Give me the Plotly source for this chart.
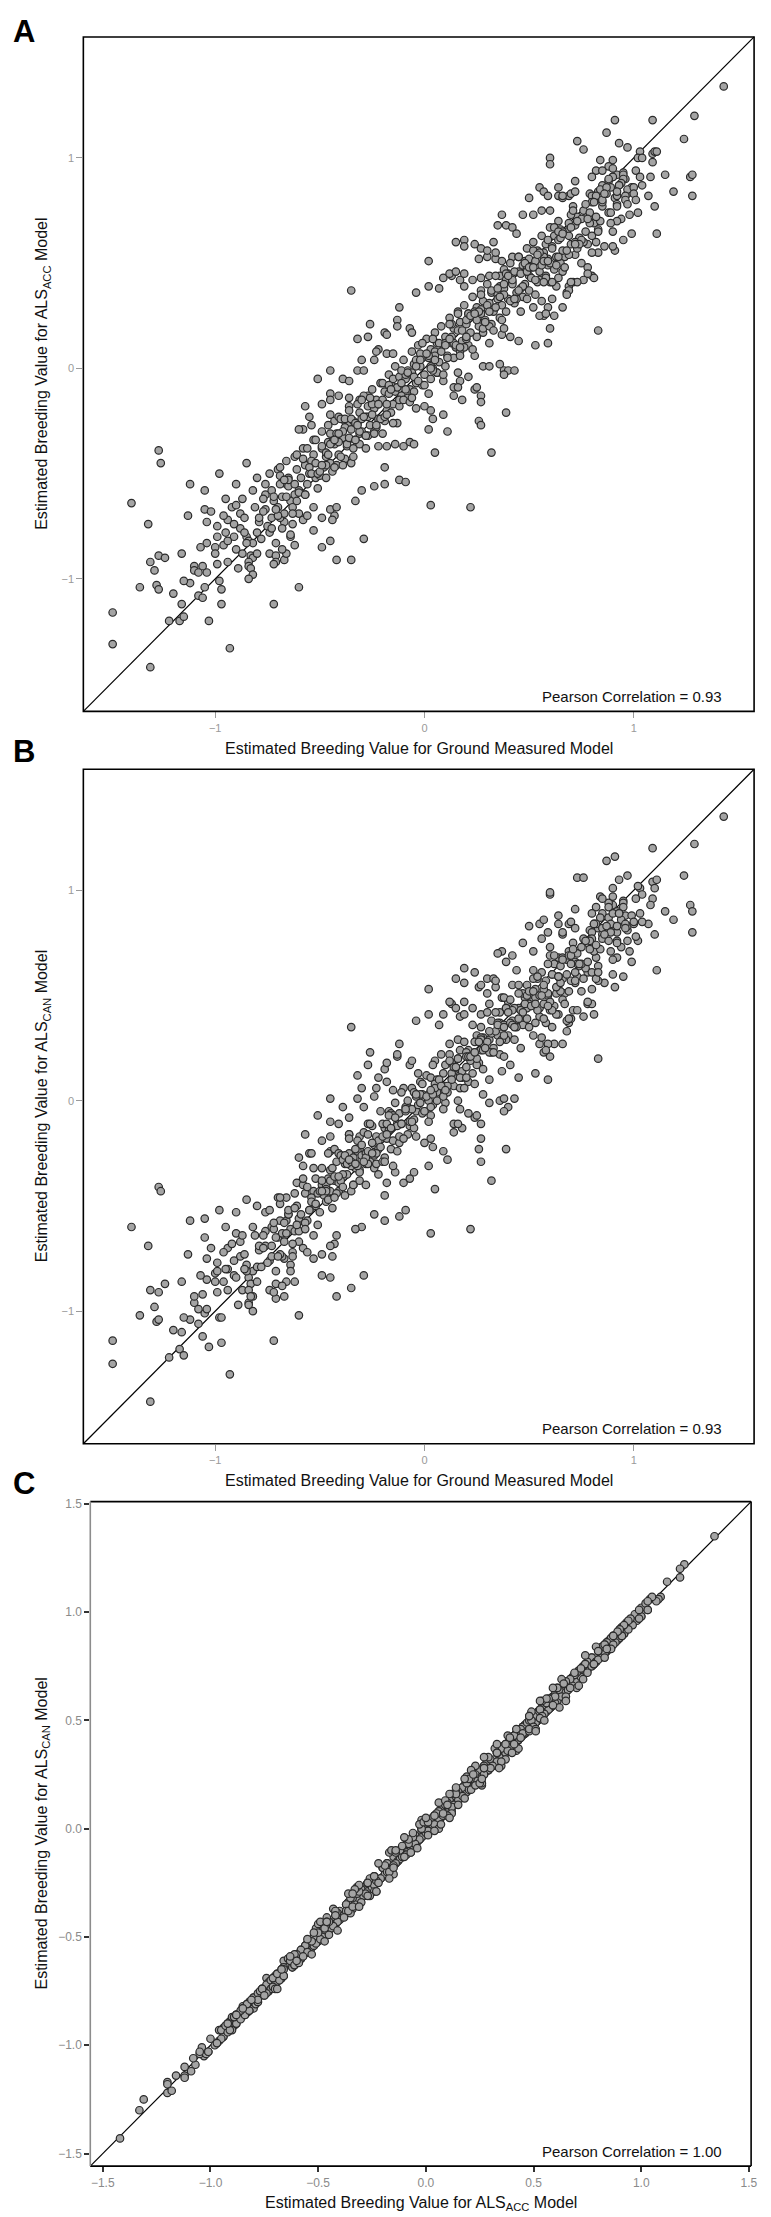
import plotly.graph_objects as go

# Estimated breeding values.
# Panel A: ground vs ALS_ACC, panel B: ground vs ALS_CAN, panel C: ALS_ACC vs ALS_CAN

# lower-left tail
TAIL_GROUND = [
    -1.49, -1.49, -1.31, -0.93, -0.72, -0.60, -0.42, -0.35, -0.29, -1.03,
    -1.22, -1.17, -1.15, -1.16, -1.20, -1.36, -1.28, -1.27, -1.29, -1.31,
    -1.27, -1.24, -1.32, -1.13, -1.16, -1.10, -1.10, -1.12, -1.08, -1.06,
    -1.05, -1.04, -1.06, -0.98, -0.97, -0.97, -0.99, -1.04, -1.00, -0.99,
    -1.04, -1.05, -1.02, -0.94, -0.91, -0.88, -0.96, -0.94, -0.92, -0.90,
    -0.85, -0.84, -0.82, -0.87, -0.83, -0.82, -0.80, -0.84, -0.84, -0.83,
    -0.82, -0.84, -0.74, -0.71, -0.71, -0.72, -0.67, -0.66, -0.68, -0.71,
    -0.62, -0.64, -0.64, -0.74, -0.75, -0.79, -0.67, -0.68, -0.63, -0.49,
    -0.45, -0.53, -0.49, -0.43, -0.44, -0.53, -0.45, -0.42, -0.76, -0.73,
    -0.69, -0.60, -0.58, -0.56, 0.03, 0.22, -1.40, -1.27, -1.26, -0.98,
    -0.90, -0.85, -0.80, -0.76, -0.70, -0.66, -0.62, -1.05, -1.12, -0.95,
]
TAIL_ACC = [
    -1.16, -1.31, -1.42, -1.33, -1.12, -1.04, -0.91, -0.91, -0.81, -1.20,
    -1.20, -1.20, -1.18, -1.12, -1.07, -1.04, -1.03, -1.05, -0.96, -0.92,
    -0.89, -0.90, -0.74, -0.70, -0.88, -0.94, -0.96, -1.02, -1.08, -1.09,
    -1.04, -0.97, -0.94, -1.01, -1.05, -1.12, -0.93, -0.83, -0.85, -0.80,
    -0.73, -0.67, -0.68, -0.72, -0.80, -0.76, -0.84, -0.82, -0.66, -0.65,
    -0.80, -0.82, -0.83, -0.88, -0.89, -0.90, -0.88, -0.92, -0.94, -0.95,
    -0.98, -1.00, -0.88, -0.89, -0.92, -0.93, -0.91, -0.88, -0.86, -0.83,
    -0.84, -0.80, -0.79, -0.78, -0.75, -0.73, -0.73, -0.76, -0.74, -0.85,
    -0.82, -0.77, -0.71, -0.70, -0.72, -0.66, -0.67, -0.66, -0.67, -0.71,
    -0.71, -0.69, -0.72, -0.70, -0.65, -0.66, -0.64, -0.39, -0.45, -0.50,
    -0.55, -0.45, -0.52, -0.60, -0.48, -0.55, -0.42, -0.58, -0.55, -0.62,
]
TAIL_CAN = [
    -1.14, -1.25, -1.43, -1.30, -1.14, -1.02, -0.93, -0.89, -0.83, -1.17,
    -1.22, -1.18, -1.21, -1.10, -1.09, -1.02, -1.05, -1.04, -0.98, -0.90,
    -0.91, -0.87, -0.69, -0.73, -0.86, -0.96, -0.93, -1.04, -1.06, -1.12,
    -1.01, -0.99, -0.92, -1.03, -1.03, -1.15, -0.91, -0.85, -0.82, -0.81,
    -0.75, -0.65, -0.70, -0.70, -0.83, -0.74, -0.86, -0.80, -0.68, -0.63,
    -0.78, -0.84, -0.81, -0.90, -0.87, -0.93, -0.86, -0.90, -0.96, -0.93,
    -1.00, -0.97, -0.90, -0.87, -0.94, -0.91, -0.93, -0.86, -0.88, -0.81,
    -0.86, -0.78, -0.81, -0.76, -0.77, -0.71, -0.75, -0.74, -0.72, -0.83,
    -0.84, -0.75, -0.73, -0.68, -0.74, -0.64, -0.69, -0.64, -0.69, -0.69,
    -0.73, -0.67, -0.70, -0.72, -0.63, -0.61, -0.60, -0.41, -0.43, -0.52,
    -0.53, -0.47, -0.50, -0.62, -0.46, -0.57, -0.44, -0.56, -0.57, -0.60,
]

# middle of the cloud, edges and strays
MID_GROUND = [
    0.02, -0.35, -0.04, -0.12, -0.26, -0.32, -0.27, -0.13, -0.13, -0.19,
    -0.18, -0.22, -0.23, -0.18, -0.15, -0.30, -0.24, -0.45, -0.51, -0.39,
    -0.36, -0.32, -0.29, -0.57, -0.55, -0.54, -0.58, -0.60, -0.49, -0.45,
    -0.45, -0.41, -0.36, -0.36, -0.31, -0.27, -0.45, -0.43, -0.41, -0.38,
    -0.36, -0.31, -0.28, -0.24, -0.22, -0.18, -0.14, -0.10, -0.07, -0.05,
    -0.19, -0.12, -0.09, -0.19, -0.24, -0.30, -0.33, 0.05, 0.11, 0.02,
    0.04, 0.09, 0.03, 0.00, 0.18, 0.14, 0.27, 0.27, 0.24, 0.39,
    0.26, 0.27, 0.32, 0.21, 0.17, 0.14, 0.36, 0.38, 0.40, 0.43,
    0.28, 0.31, 0.53, 0.59, 0.60, 0.57, 0.52, 0.45, 0.41, 0.37,
    0.75, 0.78, 0.80, 0.69, 0.68, 0.71, 0.66, 0.62, 0.59, 0.26,
    0.30, 0.34, 0.37, 0.42, 0.48, 0.53, 0.59, 0.64, 0.67, 0.72,
    0.09, 0.13, 0.17, 0.19, 0.23, 0.27, 0.31, 0.36, 0.40, 0.45,
    0.50, 0.55, 0.60,
]
MID_ACC = [
    0.51, 0.37, 0.36, 0.29, 0.21, 0.14, 0.15, 0.23, 0.20, 0.17,
    0.16, 0.09, 0.08, 0.07, 0.07, 0.04, 0.04, -0.01, -0.05, -0.05,
    -0.06, -0.01, -0.01, -0.18, -0.23, -0.27, -0.29, -0.29, -0.17, -0.12,
    -0.15, -0.13, -0.14, -0.18, -0.15, -0.13, -0.22, -0.25, -0.23, -0.25,
    -0.27, -0.31, -0.32, -0.30, -0.37, -0.37, -0.36, -0.37, -0.35, -0.36,
    -0.47, -0.53, -0.54, -0.55, -0.56, -0.58, -0.63, -0.40, -0.30, -0.29,
    -0.24, -0.22, -0.20, -0.18, -0.15, -0.13, -0.13, -0.16, -0.10, -0.21,
    -0.25, -0.27, -0.40, -0.04, -0.06, -0.09, 0.02, -0.01, -0.01, -0.01,
    0.01, 0.01, 0.11, 0.12, 0.19, 0.25, 0.29, 0.13, 0.15, 0.16,
    0.50, 0.48, 0.44, 0.39, 0.36, 0.41, 0.29, 0.25, 0.29, 0.52,
    0.53, 0.52, 0.51, 0.53, 0.51, 0.51, 0.52, 0.51, 0.53, 0.54,
    0.43, 0.44, 0.42, 0.39, 0.42, 0.43, 0.44, 0.44, 0.45, 0.46,
    0.44, 0.42, 0.41,
]
MID_CAN = [
    0.53, 0.35, 0.38, 0.27, 0.23, 0.12, 0.17, 0.21, 0.22, 0.15,
    0.18, 0.11, 0.06, 0.09, 0.05, 0.06, 0.02, 0.01, -0.07, -0.03,
    -0.08, 0.01, -0.03, -0.16, -0.25, -0.25, -0.31, -0.27, -0.19, -0.10,
    -0.17, -0.11, -0.16, -0.16, -0.17, -0.11, -0.24, -0.23, -0.25, -0.27,
    -0.25, -0.33, -0.30, -0.32, -0.35, -0.39, -0.34, -0.39, -0.37, -0.34,
    -0.45, -0.55, -0.52, -0.57, -0.54, -0.60, -0.61, -0.42, -0.28, -0.31,
    -0.22, -0.24, -0.18, -0.20, -0.13, -0.15, -0.11, -0.18, -0.08, -0.23,
    -0.23, -0.29, -0.38, -0.06, -0.04, -0.11, 0.00, 0.01, -0.03, 0.01,
    0.03, -0.01, 0.13, 0.10, 0.21, 0.23, 0.31, 0.11, 0.17, 0.14,
    0.52, 0.46, 0.46, 0.37, 0.38, 0.43, 0.27, 0.27, 0.27, 0.54,
    0.51, 0.54, 0.49, 0.55, 0.49, 0.53, 0.50, 0.53, 0.51, 0.56,
    0.41, 0.46, 0.40, 0.41, 0.44, 0.41, 0.46, 0.42, 0.47, 0.44,
    0.46, 0.40, 0.43,
]

# upper-right part of the cloud
UPPER_GROUND = [
    1.10, 1.11, 0.99, 0.95, 1.02, 0.98, 0.94, 0.92, 0.90, 0.91,
    0.90, 0.86, 0.83, 0.82, 0.80, 0.78, 0.81, 0.78, 0.76, 0.73,
    0.70, 0.69, 0.68, 0.83, 0.55, 0.58, 0.61, 0.56, 0.66, 0.64,
    0.63, 0.15, 0.19, 0.19, 0.02, 0.07, 0.12, 0.15, 0.19, -0.07,
    -0.06, 0.24, 0.27, 0.30, 0.33, 0.34, 0.37, 0.35, 0.39, 0.42,
    0.44, 0.47, 0.52, 0.56, 0.60, 0.64, 0.66, 0.69, 0.79, 0.81,
    0.83, 0.85, 0.88, 0.90, 0.92, 0.95, 0.96, 0.99, 0.97, 0.91,
    0.92, 0.78, 0.82, 0.85, 0.25, 0.16, 0.38,
    1.43, 1.29, 1.24, 1.09, 0.91, 0.87, 0.73, 0.76, 0.60, 0.60,
    0.93, 0.97, 1.03, 1.02, 1.04, 1.09, 1.10, 1.11, 1.09, 1.01,
    1.03, 1.08, 1.15, 1.27, 1.28, 1.19, 1.28, 1.07, 0.84, 0.90,
    0.88, 0.90, 0.82, 0.85, 0.80, 0.90, 0.88, 0.95, 0.95, 0.94,
    0.93, 0.97, 1.00, 0.72, 0.84, 0.89, 0.64, 0.55, 0.57, 0.59,
    0.50, 0.66, 0.70, 0.72, 0.80, 0.82, 0.92, 0.96,
]
UPPER_ACC = [
    0.77, 0.64, 0.64, 0.61, 0.74, 0.73, 0.71, 0.70, 0.65, 0.56,
    0.58, 0.58, 0.55, 0.60, 0.55, 0.59, 0.43, 0.45, 0.42, 0.41,
    0.41, 0.37, 0.35, 0.18, 0.25, 0.26, 0.33, 0.32, 0.46, 0.43,
    0.39, 0.60, 0.61, 0.58, 0.39, 0.38, 0.45, 0.46, 0.45, 0.19,
    0.17, 0.59, 0.57, 0.56, 0.60, 0.55, 0.73, 0.68, 0.68, 0.67,
    0.64, 0.73, 0.73, 0.75, 0.75, 0.82, 0.81, 0.82, 0.83, 0.82,
    0.84, 0.87, 0.89, 0.91, 0.92, 0.93, 0.90, 0.86, 0.83, 0.81,
    0.78, 0.73, 0.70, 0.77, -0.09, -0.09, -0.03,
    1.34, 1.20, 1.09, 1.18, 1.18, 1.12, 1.08, 1.04, 1.00, 0.97,
    1.07, 1.05, 1.03, 1.00, 1.00, 1.02, 1.03, 1.03, 0.98, 0.94,
    0.91, 0.91, 0.92, 0.91, 0.92, 0.84, 0.82, 0.82, 0.99, 0.99,
    0.96, 0.95, 0.94, 0.94, 0.91, 0.91, 0.90, 0.92, 0.90, 0.88,
    0.87, 0.85, 0.86, 0.89, 0.85, 0.86, 0.86, 0.86, 0.84, 0.82,
    0.81, 0.82, 0.83, 0.84, 0.82, 0.82, 0.82, 0.82,
]
UPPER_CAN = [
    0.79, 0.62, 0.66, 0.59, 0.76, 0.71, 0.73, 0.68, 0.67, 0.54,
    0.60, 0.56, 0.57, 0.58, 0.53, 0.61, 0.41, 0.47, 0.40, 0.43,
    0.39, 0.39, 0.33, 0.20, 0.27, 0.24, 0.35, 0.30, 0.48, 0.41,
    0.41, 0.58, 0.63, 0.56, 0.41, 0.36, 0.47, 0.44, 0.47, 0.17,
    0.19, 0.61, 0.55, 0.58, 0.58, 0.57, 0.71, 0.70, 0.66, 0.69,
    0.62, 0.75, 0.71, 0.77, 0.73, 0.84, 0.79, 0.84, 0.81, 0.84,
    0.82, 0.89, 0.87, 0.93, 0.90, 0.95, 0.88, 0.88, 0.81, 0.83,
    0.76, 0.75, 0.68, 0.79, -0.07, -0.11, -0.05,
    1.35, 1.22, 1.07, 1.20, 1.16, 1.14, 1.06, 1.06, 0.98, 0.99,
    1.05, 1.07, 1.01, 1.02, 0.98, 1.04, 1.01, 1.05, 0.96, 0.96,
    0.89, 0.93, 0.90, 0.93, 0.90, 0.86, 0.80, 0.84, 0.97, 1.01,
    0.94, 0.97, 0.92, 0.96, 0.89, 0.89, 0.92, 0.94, 0.92, 0.86,
    0.89, 0.83, 0.84, 0.91, 0.87, 0.84, 0.88, 0.84, 0.86, 0.80,
    0.83, 0.80, 0.85, 0.82, 0.80, 0.84, 0.80, 0.84,
]

# dense core along the diagonal
CORE_GROUND = [
    -0.95, -0.94, -0.96, -0.90, -0.91, -0.89, -0.88, -0.86, -0.85, -0.87,
    -0.86, -0.81, -0.80, -0.82, -0.79, -0.77, -0.78, -0.76, -0.77, -0.73,
    -0.72, -0.74, -0.73, -0.69, -0.70, -0.68, -0.69, -0.67, -0.65, -0.64,
    -0.66, -0.65, -0.63, -0.61, -0.60, -0.62, -0.61, -0.59, -0.57, -0.56,
    -0.58, -0.57, -0.55, -0.53, -0.52, -0.54, -0.53, -0.51, -0.49, -0.48,
    -0.50, -0.49, -0.47, -0.46, -0.45, -0.47, -0.46, -0.44, -0.45, -0.42,
    -0.41, -0.43, -0.42, -0.40, -0.38, -0.37, -0.39, -0.38, -0.36, -0.39,
    -0.34, -0.33, -0.35, -0.34, -0.32, -0.35, -0.31, -0.30, -0.32, -0.31,
    -0.29, -0.30, -0.27, -0.26, -0.28, -0.27, -0.25, -0.28, -0.23, -0.22,
    -0.24, -0.23, -0.21, -0.22, -0.19, -0.18, -0.20, -0.19, -0.17, -0.20,
    -0.16, -0.15, -0.17, -0.16, -0.14, -0.15, -0.12, -0.11, -0.13, -0.12,
    -0.10, -0.13, -0.08, -0.07, -0.09, -0.08, -0.06, -0.09, -0.05, -0.04,
    -0.06, -0.05, -0.03, -0.04, -0.01, 0.00, -0.02, -0.01, 0.01, -0.02,
    0.03, 0.04, 0.02, 0.03, 0.05, 0.02, 0.06, 0.07, 0.05, 0.06,
    0.08, 0.05, 0.10, 0.11, 0.09, 0.10, 0.12, 0.09, 0.14, 0.15,
    0.13, 0.14, 0.16, 0.13, 0.17, 0.18, 0.16, 0.17, 0.19, 0.16,
    0.21, 0.22, 0.20, 0.21, 0.23, 0.20, 0.25, 0.26, 0.24, 0.25,
    0.27, 0.24, 0.28, 0.29, 0.27, 0.28, 0.30, 0.27, 0.32, 0.33,
    0.31, 0.32, 0.34, 0.31, 0.36, 0.37, 0.35, 0.36, 0.38, 0.35,
    0.39, 0.40, 0.38, 0.39, 0.41, 0.38, 0.43, 0.44, 0.42, 0.43,
    0.45, 0.42, 0.47, 0.48, 0.46, 0.47, 0.49, 0.46, 0.50, 0.51,
    0.49, 0.50, 0.52, 0.49, 0.54, 0.55, 0.53, 0.54, 0.56, 0.53,
    0.58, 0.59, 0.57, 0.58, 0.60, 0.57, 0.62, 0.63, 0.61, 0.62,
    0.64, 0.61, 0.65, 0.66, 0.64, 0.65, 0.69, 0.70, 0.68, 0.69,
    0.71, 0.73, 0.74, 0.72, 0.73, 0.76, 0.77, 0.75, 0.76, 0.80,
    0.81, 0.79, 0.80, 0.84, 0.85, 0.83, 0.88, 0.87, 0.89, 0.92,
    0.93, 0.96, 0.97, 1.00, 1.01, 1.04, -1.00, -0.99, -1.08, -1.07,
    -1.15,
]
CORE_ACC = [
    -0.78, -0.92, -0.70, -0.86, -0.74, -0.95, -0.69, -0.71, -0.83, -0.62,
    -0.78, -0.66, -0.78, -0.58, -0.71, -0.62, -0.81, -0.55, -0.68, -0.58,
    -0.63, -0.50, -0.76, -0.55, -0.66, -0.61, -0.47, -0.69, -0.52, -0.63,
    -0.44, -0.56, -0.66, -0.48, -0.58, -0.60, -0.41, -0.52, -0.46, -0.55,
    -0.38, -0.60, -0.50, -0.41, -0.52, -0.44, -0.34, -0.57, -0.38, -0.47,
    -0.51, -0.30, -0.42, -0.35, -0.45, -0.40, -0.27, -0.49, -0.31, -0.31,
    -0.41, -0.36, -0.46, -0.24, -0.28, -0.37, -0.33, -0.43, -0.20, -0.30,
    -0.25, -0.34, -0.29, -0.38, -0.17, -0.45, -0.21, -0.30, -0.26, -0.36,
    -0.13, -0.24, -0.18, -0.27, -0.23, -0.32, -0.10, -0.38, -0.15, -0.24,
    -0.19, -0.28, -0.07, -0.17, -0.11, -0.20, -0.15, -0.25, -0.03, -0.31,
    -0.08, -0.17, -0.12, -0.21, 0.01, -0.05, -0.04, -0.13, -0.09, -0.18,
    0.04, -0.26, -0.01, -0.10, -0.05, -0.14, 0.08, -0.03, 0.02, -0.07,
    -0.02, -0.11, 0.11, -0.19, 0.05, -0.03, 0.01, -0.08, 0.14, 0.07,
    0.09, 0.00, 0.05, -0.05, 0.17, -0.12, 0.12, 0.03, 0.08, -0.02,
    0.20, 0.06, 0.15, 0.06, 0.11, 0.01, 0.24, -0.06, 0.19, 0.10,
    0.15, 0.05, 0.27, 0.12, 0.22, 0.13, 0.18, 0.08, 0.30, -0.02,
    0.26, 0.17, 0.21, 0.11, 0.34, 0.23, 0.29, 0.20, 0.25, 0.15,
    0.37, 0.06, 0.32, 0.23, 0.28, 0.17, 0.40, 0.26, 0.36, 0.27,
    0.31, 0.21, 0.44, 0.12, 0.39, 0.30, 0.35, 0.24, 0.47, 0.33,
    0.42, 0.33, 0.38, 0.27, 0.50, 0.19, 0.46, 0.36, 0.41, 0.31,
    0.53, 0.40, 0.49, 0.40, 0.45, 0.34, 0.57, 0.27, 0.52, 0.43,
    0.48, 0.37, 0.60, 0.46, 0.56, 0.46, 0.51, 0.41, 0.63, 0.35,
    0.59, 0.49, 0.55, 0.44, 0.67, 0.53, 0.63, 0.53, 0.58, 0.47,
    0.70, 0.41, 0.66, 0.56, 0.61, 0.50, 0.69, 0.59, 0.65, 0.54,
    0.77, 0.72, 0.62, 0.68, 0.57, 0.75, 0.65, 0.71, 0.60, 0.79,
    0.69, 0.74, 0.63, 0.70, 0.79, 0.66, 0.74, 0.83, 0.69, 0.77,
    0.87, 0.80, 0.78, 0.83, 0.80, 0.87, -0.88, -0.75, -0.97, -0.85,
    -1.01,
]
CORE_CAN = [
    -0.80, -0.90, -0.72, -0.84, -0.76, -0.97, -0.67, -0.73, -0.81, -0.64,
    -0.80, -0.64, -0.79, -0.60, -0.69, -0.64, -0.79, -0.53, -0.70, -0.60,
    -0.61, -0.52, -0.74, -0.57, -0.65, -0.63, -0.49, -0.67, -0.54, -0.61,
    -0.46, -0.54, -0.68, -0.50, -0.56, -0.62, -0.39, -0.54, -0.44, -0.57,
    -0.40, -0.58, -0.52, -0.43, -0.50, -0.46, -0.32, -0.59, -0.40, -0.45,
    -0.53, -0.32, -0.40, -0.37, -0.43, -0.42, -0.25, -0.51, -0.33, -0.29,
    -0.43, -0.38, -0.44, -0.26, -0.30, -0.35, -0.35, -0.45, -0.18, -0.28,
    -0.27, -0.32, -0.31, -0.40, -0.19, -0.43, -0.23, -0.28, -0.24, -0.38,
    -0.15, -0.26, -0.16, -0.29, -0.25, -0.30, -0.12, -0.40, -0.17, -0.22,
    -0.21, -0.30, -0.05, -0.19, -0.13, -0.18, -0.17, -0.27, -0.05, -0.29,
    -0.06, -0.19, -0.14, -0.23, -0.01, -0.07, -0.06, -0.11, -0.11, -0.20,
    0.06, -0.24, -0.03, -0.12, -0.03, -0.16, 0.06, -0.05, 0.04, -0.05,
    -0.04, -0.13, 0.13, -0.17, 0.03, -0.05, 0.03, -0.06, 0.12, 0.09,
    0.11, -0.02, 0.03, -0.07, 0.19, -0.10, 0.10, 0.05, 0.06, 0.00,
    0.22, 0.08, 0.17, 0.04, 0.13, -0.01, 0.22, -0.04, 0.17, 0.12,
    0.13, 0.07, 0.29, 0.10, 0.24, 0.11, 0.20, 0.06, 0.28, 0.00,
    0.24, 0.19, 0.23, 0.09, 0.36, 0.21, 0.31, 0.18, 0.23, 0.17,
    0.35, 0.08, 0.30, 0.25, 0.30, 0.15, 0.42, 0.24, 0.38, 0.25,
    0.29, 0.23, 0.42, 0.10, 0.37, 0.32, 0.37, 0.22, 0.49, 0.31,
    0.44, 0.31, 0.36, 0.29, 0.48, 0.21, 0.44, 0.38, 0.43, 0.29,
    0.55, 0.38, 0.51, 0.38, 0.43, 0.36, 0.55, 0.25, 0.50, 0.45,
    0.50, 0.35, 0.62, 0.44, 0.58, 0.44, 0.49, 0.43, 0.61, 0.37,
    0.57, 0.51, 0.53, 0.46, 0.69, 0.55, 0.65, 0.51, 0.60, 0.45,
    0.68, 0.43, 0.64, 0.58, 0.59, 0.52, 0.71, 0.57, 0.67, 0.52,
    0.75, 0.70, 0.64, 0.66, 0.59, 0.77, 0.63, 0.73, 0.58, 0.77,
    0.71, 0.76, 0.61, 0.72, 0.77, 0.64, 0.76, 0.81, 0.71, 0.75,
    0.89, 0.82, 0.76, 0.85, 0.78, 0.85, -0.86, -0.77, -0.99, -0.83,
    -1.03,
]

# thickest part of the band
DENSE_GROUND = [
    -0.72, -0.70, -0.69, -0.66, -0.65, -0.63, -0.62, -0.60, -0.58, -0.57,
    -0.55, -0.54, -0.52, -0.51, -0.49, -0.47, -0.46, -0.44, -0.43, -0.41,
    -0.40, -0.38, -0.37, -0.35, -0.34, -0.33, -0.31, -0.30, -0.28, -0.27,
    -0.25, -0.24, -0.22, -0.21, -0.20, -0.18, -0.17, -0.15, -0.14, -0.12,
    -0.11, -0.10, -0.08, -0.07, -0.05, -0.04, -0.03, -0.01, 0.00, 0.02,
    0.03, 0.04, 0.06, 0.07, 0.09, 0.10, 0.11, 0.13, 0.14, 0.16,
    0.17, 0.18, 0.20, 0.21, 0.23, 0.24, 0.25, 0.27, 0.28, 0.30,
    0.31, 0.32, 0.34, 0.35, 0.37, 0.38, 0.39, 0.41, 0.42, 0.44,
    0.45, 0.46, 0.48, 0.49, 0.51, 0.52, 0.53, 0.55, 0.56, 0.58,
    0.59, 0.60, 0.62, 0.63, 0.65, 0.66, 0.67, 0.69, 0.70, 0.72,
    0.73, 0.75, 0.77, 0.79, 0.81, 0.83, 0.85, 0.87, 0.89, 0.92,
    -0.71, -0.67, -0.61, -0.56, -0.50, -0.45, -0.39, -0.32, -0.26, -0.19,
    -0.13, -0.06, 0.01, 0.05, 0.12, 0.19, 0.26, 0.33, 0.40, 0.47,
    0.54, 0.57, 0.61, 0.64, 0.68, 0.71, 0.74, 0.78, 0.82, 0.86,
    -0.52, -0.47, -0.43, -0.36, -0.29, -0.23, -0.16, -0.09, -0.02, 0.04,
    0.08, 0.15, 0.22, 0.29, 0.36, 0.43, 0.50, 0.57, 0.64, 0.70,
    -0.49, -0.41, -0.33, -0.25, -0.18, -0.11, -0.04, 0.03, 0.10, 0.17,
    0.24, 0.31, 0.38, 0.45, 0.52, 0.59, 0.66, 0.72, 0.12, 0.20,
]
DENSE_ACC = [
    -0.61, -0.70, -0.51, -0.61, -0.53, -0.69, -0.55, -0.59, -0.43, -0.60,
    -0.47, -0.50, -0.34, -0.50, -0.37, -0.52, -0.41, -0.35, -0.47, -0.35,
    -0.42, -0.24, -0.36, -0.24, -0.42, -0.26, -0.30, -0.15, -0.32, -0.23,
    -0.17, -0.31, -0.17, -0.24, -0.07, -0.17, -0.08, -0.26, -0.11, -0.15,
    -0.01, -0.15, -0.02, -0.16, -0.04, 0.04, -0.06, 0.12, -0.08, 0.06,
    0.01, 0.14, -0.02, 0.12, -0.03, 0.12, 0.05, 0.21, 0.12, 0.26,
    0.06, 0.18, 0.14, 0.26, 0.09, 0.27, 0.23, 0.35, 0.19, 0.30,
    0.20, 0.37, 0.29, 0.38, 0.23, 0.35, 0.45, 0.32, 0.42, 0.33,
    0.53, 0.38, 0.50, 0.33, 0.48, 0.56, 0.42, 0.55, 0.49, 0.43,
    0.61, 0.50, 0.67, 0.49, 0.62, 0.65, 0.48, 0.63, 0.73, 0.60,
    0.70, 0.61, 0.78, 0.69, 0.79, 0.65, 0.80, 0.86, 0.74, 0.84,
    -0.67, -0.53, -0.63, -0.38, -0.49, -0.36, -0.46, -0.27, -0.14, -0.23,
    -0.09, -0.14, 0.07, 0.04, 0.21, 0.10, 0.27, 0.18, 0.44, 0.39,
    0.54, 0.41, 0.57, 0.65, 0.56, 0.75, 0.59, 0.71, 0.72, 0.83,
    -0.45, -0.46, -0.34, -0.33, -0.23, -0.27, -0.10, -0.10, 0.04, -0.01,
    0.08, 0.11, 0.25, 0.22, 0.34, 0.33, 0.48, 0.51, 0.53, 0.67,
    -0.46, -0.31, -0.34, -0.22, -0.22, -0.07, 0.01, 0.00, 0.11, 0.10,
    0.26, 0.27, 0.40, 0.37, 0.48, 0.51, 0.64, 0.59, 0.14, 0.15,
]
DENSE_CAN = [
    -0.58, -0.74, -0.46, -0.63, -0.52, -0.74, -0.51, -0.62, -0.37, -0.61,
    -0.52, -0.48, -0.37, -0.44, -0.38, -0.48, -0.47, -0.32, -0.46, -0.39,
    -0.38, -0.26, -0.30, -0.29, -0.40, -0.23, -0.34, -0.21, -0.27, -0.24,
    -0.20, -0.26, -0.23, -0.22, -0.11, -0.11, -0.07, -0.31, -0.08, -0.17,
    0.04, -0.18, 0.00, -0.10, -0.09, 0.02, -0.02, 0.08, -0.05, 0.00,
    -0.03, 0.17, 0.04, 0.10, 0.02, 0.07, 0.07, 0.18, 0.16, 0.20,
    0.12, 0.14, 0.16, 0.21, 0.13, 0.28, 0.20, 0.29, 0.24, 0.28,
    0.23, 0.32, 0.33, 0.36, 0.29, 0.31, 0.44, 0.37, 0.36, 0.35,
    0.51, 0.43, 0.46, 0.39, 0.45, 0.58, 0.46, 0.50, 0.50, 0.37,
    0.65, 0.47, 0.69, 0.54, 0.56, 0.68, 0.46, 0.69, 0.69, 0.61,
    0.65, 0.65, 0.76, 0.72, 0.84, 0.61, 0.82, 0.83, 0.80, 0.83,
    -0.65, -0.58, -0.59, -0.41, -0.43, -0.38, -0.41, -0.31, -0.11, -0.29,
    -0.12, -0.10, 0.02, 0.06, 0.27, 0.06, 0.28, 0.23, 0.42, 0.42,
    0.59, 0.39, 0.60, 0.59, 0.60, 0.72, 0.65, 0.66, 0.74, 0.79,
    -0.49, -0.43, -0.36, -0.28, -0.29, -0.25, -0.13, -0.04, -0.01, 0.03,
    0.07, 0.16, 0.21, 0.25, 0.28, 0.35, 0.52, 0.46, 0.59, 0.65,
    -0.43, -0.36, -0.30, -0.25, -0.16, -0.11, 0.03, 0.05, 0.05, 0.11,
    0.23, 0.33, 0.35, 0.39, 0.52, 0.45, 0.67, 0.57, 0.19, 0.11,
]

PEARSON = ["0.93", "0.93", "1.00"]
TICKS_AB = [-1, 0, 1]
TICKS_C = [-1.5, -1.0, -0.5, 0.0, 0.5, 1.0, 1.5]
RANGE_AB = [-1.63, 1.575]
RANGE_C = [-1.558, 1.51]

ground = TAIL_GROUND + MID_GROUND + UPPER_GROUND + CORE_GROUND + DENSE_GROUND
acc = TAIL_ACC + MID_ACC + UPPER_ACC + CORE_ACC + DENSE_ACC
can = TAIL_CAN + MID_CAN + UPPER_CAN + CORE_CAN + DENSE_CAN
assert len(ground) == len(acc) == len(can)

W, H = 771, 2217
FONT = "Liberation Sans, Arial, sans-serif"
NARROW = "Liberation Sans Narrow, Arial Narrow, Liberation Sans, Arial, sans-serif"


def px_x(x):
    return x / W


def px_y(y):
    return 1 - y / H


marker = dict(size=7.5, color="#a4a4a4", line=dict(color="#2a2a2a", width=1.2))

fig = go.Figure()
fig.add_trace(go.Scatter(x=ground, y=acc, mode="markers", marker=marker,
                         xaxis="x", yaxis="y", hoverinfo="skip"))
fig.add_trace(go.Scatter(x=ground, y=can, mode="markers", marker=marker,
                         xaxis="x2", yaxis="y2", hoverinfo="skip"))
fig.add_trace(go.Scatter(x=acc, y=can, mode="markers", marker=marker,
                         xaxis="x3", yaxis="y3", hoverinfo="skip"))

ab_axis = dict(
    range=RANGE_AB, tickvals=TICKS_AB, ticks="outside", ticklen=6, tickwidth=1,
    tickcolor="#9a9a9a", tickfont=dict(family=FONT, size=11, color="#9a9a9a"),
    showline=False, showgrid=False, zeroline=False,
)
c_axis = dict(
    range=RANGE_C, tickvals=TICKS_C, tickformat=".1f", ticks="outside", ticklen=5,
    tickwidth=1.5, tickcolor="#333", tickfont=dict(family=NARROW, size=12, color="#8a8a8a"),
    showline=False, showgrid=False, zeroline=False,
)

# panel boxes in pixels: (left, top, right, bottom)
BOX_A = (84, 32, 760, 708)
BOX_B = (84, 766, 760, 1442)
BOX_C = (91, 1500, 757, 2166)

fig.update_layout(
    width=W, height=H,
    margin=dict(l=0, r=0, t=0, b=0),
    paper_bgcolor="white", plot_bgcolor="white",
    showlegend=False,
    xaxis=dict(ab_axis, domain=[px_x(BOX_A[0]), px_x(BOX_A[2])], anchor="y"),
    yaxis=dict(ab_axis, domain=[px_y(BOX_A[3]), px_y(BOX_A[1])], anchor="x"),
    xaxis2=dict(ab_axis, domain=[px_x(BOX_B[0]), px_x(BOX_B[2])], anchor="y2"),
    yaxis2=dict(ab_axis, domain=[px_y(BOX_B[3]), px_y(BOX_B[1])], anchor="x2"),
    xaxis3=dict(c_axis, domain=[px_x(BOX_C[0]), px_x(BOX_C[2])], anchor="y3"),
    yaxis3=dict(c_axis, domain=[px_y(BOX_C[3]), px_y(BOX_C[1])], anchor="x3"),
)

shapes = []
for xa, ya in [("x", "y"), ("x2", "y2"), ("x3", "y3")]:
    shapes.append(dict(type="line", xref=f"{xa} domain", yref=f"{ya} domain",
                       x0=0, y0=0, x1=1, y1=1, layer="below",
                       line=dict(color="black", width=1.2)))
for xa, ya in [("x", "y"), ("x2", "y2")]:
    shapes.append(dict(type="rect", xref=f"{xa} domain", yref=f"{ya} domain",
                       x0=0, y0=0, x1=1, y1=1, layer="above",
                       line=dict(color="black", width=1.6)))
# panel C: black top/right/bottom, grey left
for x0, y0, x1, y1, col in [(0, 1, 1, 1, "black"), (1, 0, 1, 1, "black"),
                            (0, 0, 1, 0, "black"), (0, 0, 0, 1, "#8c8c8c")]:
    shapes.append(dict(type="line", xref="x3 domain", yref="y3 domain",
                       x0=x0, y0=y0, x1=x1, y1=y1, layer="above",
                       line=dict(color=col, width=1.6)))
fig.update_layout(shapes=shapes)

ann = []
acc_lbl = "Estimated Breeding Value for ALS<sub>ACC</sub> Model"
can_lbl = "Estimated Breeding Value for ALS<sub>CAN</sub> Model"
ground_lbl = "Estimated Breeding Value for Ground Measured Model"
for box, letter, xlbl, ylbl, r in [(BOX_A, "A", ground_lbl, acc_lbl, PEARSON[0]),
                                   (BOX_B, "B", ground_lbl, can_lbl, PEARSON[1]),
                                   (BOX_C, "C", acc_lbl, can_lbl, PEARSON[2])]:
    l, t, rt, b = box
    cx = (l + rt) / 2
    cy = (t + b) / 2
    ann.append(dict(text=xlbl, x=px_x(cx), y=px_y(b + 37), xref="paper", yref="paper",
                    showarrow=False, xanchor="center", yanchor="middle",
                    font=dict(family=FONT, size=16, color="#111")))
    ann.append(dict(text=ylbl, x=px_x(43), y=px_y(cy), xref="paper", yref="paper",
                    showarrow=False, xanchor="center", yanchor="middle", textangle=-90,
                    font=dict(family=FONT, size=16, color="#111")))
    ann.append(dict(text=f"Pearson Correlation = {r}", x=px_x(730), y=px_y(b - 15),
                    xref="paper", yref="paper", showarrow=False,
                    xanchor="right", yanchor="middle",
                    font=dict(family=FONT, size=15, color="#111")))
    ann.append(dict(text=f"<b>{letter}</b>", x=px_x(24), y=px_y(t - 18 if letter != "A" else 27),
                    xref="paper", yref="paper", showarrow=False,
                    xanchor="center", yanchor="middle",
                    font=dict(family=FONT, size=31, color="black")))
fig.update_layout(annotations=ann)

fig.write_html("out.html", config={"displayModeBar": False},
               post_script="document.body.style.margin='0';")
